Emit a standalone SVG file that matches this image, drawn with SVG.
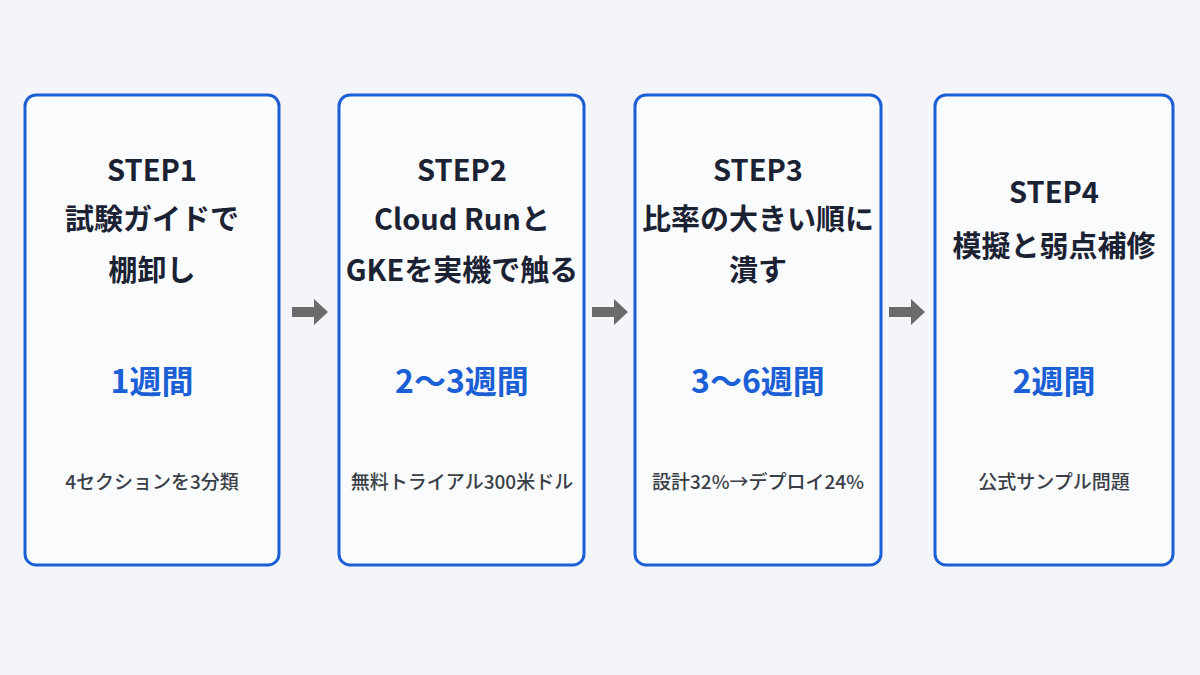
<svg xmlns="http://www.w3.org/2000/svg" width="1200" height="675" viewBox="0 0 1200 675">
<style>
.box{fill:#fafbfd;stroke:#1a5fd6;stroke-width:3}
.t{font-family:"Noto Sans CJK JP","Noto Sans",sans-serif;font-weight:700;font-size:29px;fill:#1a2233;text-anchor:middle}
.w{font-family:"Noto Sans CJK JP","Noto Sans",sans-serif;font-weight:700;font-size:32px;fill:#1a5fd6;text-anchor:middle}
.n{font-family:"Noto Sans CJK JP","Noto Sans",sans-serif;font-weight:500;font-size:19px;fill:#3a3f47;text-anchor:middle}
.a{fill:#6b6b6b}
</style>
<defs><path id="arr" d="M0,-5 H22 V-13 L36,0 L22,13 V5 H0 Z"/></defs>
<rect width="1200" height="675" fill="#f4f5f8"/>
<g id="connectors">
<use href="#arr" class="a" x="292" y="312"/>
<use href="#arr" class="a" x="592" y="312"/>
<use href="#arr" class="a" x="889" y="312"/>
</g>
<g id="step1">
<rect class="box" x="25" y="95" width="254" height="470" rx="11"/>
<text class="t" x="152" y="181">STEP1</text>
<text class="t" x="152" y="230">試験ガイドで</text>
<text class="t" x="152" y="281">棚卸し</text>
<text class="w" x="152" y="393">1週間</text>
<text class="n" x="152" y="489">4セクションを3分類</text>
</g>
<g id="step2">
<rect class="box" x="339" y="95" width="245" height="470" rx="11"/>
<text class="t" x="462" y="181">STEP2</text>
<text class="t" x="462" y="230">Cloud Runと</text>
<text class="t" x="462" y="281">GKEを実機で触る</text>
<text class="w" x="462" y="393">2～3週間</text>
<text class="n" x="462" y="489">無料トライアル300米ドル</text>
</g>
<g id="step3">
<rect class="box" x="635" y="95" width="246" height="470" rx="11"/>
<text class="t" x="758" y="181">STEP3</text>
<text class="t" x="758" y="230">比率の大きい順に</text>
<text class="t" x="758" y="281">潰す</text>
<text class="w" x="758" y="393">3～6週間</text>
<text class="n" x="758" y="489">設計32%→デプロイ24%</text>
</g>
<g id="step4">
<rect class="box" x="935" y="95" width="238" height="470" rx="11"/>
<text class="t" x="1054" y="203">STEP4</text>
<text class="t" x="1054" y="257">模擬と弱点補修</text>
<text class="w" x="1054" y="393">2週間</text>
<text class="n" x="1054" y="489">公式サンプル問題</text>
</g>
</svg>
